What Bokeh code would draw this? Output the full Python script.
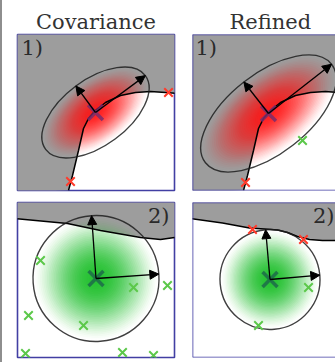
import numpy as np
from bokeh.plotting import figure
from bokeh.layouts import row, column
from bokeh.models import Range1d, ColumnDataSource, Arrow, NormalHead, Label, Span, Div
from bokeh.embed import file_html
from bokeh.resources import INLINE

# ---- text ----
titles = ["Covariance", "Refined"]
row_tags = ["1)", "2)"]

# ---- scene 1: obstacle boundary (occupied side is up/left) ----
wall1_x = [51, 55, 61, 66, 71, 78, 88, 103, 118, 133, 148, 160]
wall1_y = [0, 15, 40, 62, 72, 80, 88, 95, 98, 99, 98, 97]

# ---- scene 2: obstacle boundary (occupied side is up) ----
wall2_cov_x = [-2, 50, 83, 123, 143, 157, 160]
wall2_cov_y = [140, 135, 128, 121, 119, 121, 121]
wall2_ref_x = [-2, 30, 57, 72, 85, 95, 105, 117, 130, 160]
wall2_ref_y = [140, 135.5, 130.5, 129.5, 128.5, 126, 122, 119, 118, 118]

# ---- uncertainty ellipses: centre, semi-axes, rotation (deg) ----
cov1 = dict(cx=78, cy=78, a=62, b=33, ang=36.5)
ref1 = dict(cx=76, cy=77, a=80, b=40, ang=38.0)
cov2 = dict(cx=78.5, cy=80, a=63, b=63, ang=4.0)
ref2 = dict(cx=77.5, cy=79, a=50, b=50, ang=5.0)

# ---- samples ----
cov1_red_x, cov1_red_y = [151, 53], [98, 9]
ref1_red_x, ref1_red_y = [151, 53], [98, 8]
ref1_green_x, ref1_green_y = [110], [50]
cov2_green_x = [23, 116, 150, 11, 66, 8, 105, 136]
cov2_green_y = [98, 71, 73, 43, 33, 5, 6, 3]
ref2_green_x, ref2_green_y = [116, 66], [71, 33]
ref2_red_x, ref2_red_y = [60, 111], [129, 119]

GRAY = "#9d9d9d"
FRAME = "#423fa3"
RED = "#ff1a1a"
GREEN = "#1cc02a"
SERIF = "DejaVu Serif"


def make_panel(w, h, xr, yr, bl, br, bt, bb, title=None, open_right=False):
    p = figure(width=w, height=h, x_range=Range1d(*xr), y_range=Range1d(*yr),
               output_backend="svg", toolbar_location=None,
               x_axis_location=None, y_axis_location=None,
               min_border_left=bl, min_border_right=br,
               min_border_top=bt, min_border_bottom=bb)
    p.xgrid.visible = False
    p.ygrid.visible = False
    p.background_fill_color = "white"
    p.border_fill_color = "white"
    if open_right:
        p.outline_line_color = None
        p.add_layout(Span(location=xr[0], dimension="height", line_color=FRAME, line_width=1.6))
        p.add_layout(Span(location=yr[0], dimension="width", line_color=FRAME, line_width=1.6))
        p.add_layout(Span(location=yr[1], dimension="width", line_color=FRAME, line_width=1.6))
    else:
        p.outline_line_color = FRAME
        p.outline_line_width = 1.6
    if title:
        p.title.text = title
        p.title.text_font = SERIF
        p.title.text_font_size = "21px"
        p.title.text_font_style = "normal"
        p.title.text_color = "#333333"
        p.title.standoff = 2
    return p


def occupied(p, xs, ys, cx, cy):
    # boundary curve closed through the given frame corners
    p.patch(xs + cx, ys + cy, fill_color=GRAY, line_color=None)


def shaded_ellipse(p, e, color):
    n = 36
    r = np.linspace(1.0, 1.0 / n, n)
    opacity = 0.95 * (1 - r ** 2) ** 1.5
    trans = 1 - opacity
    prev = np.concatenate([[1.0], trans[:-1]])
    alpha = np.clip(1 - trans / prev, 0, 1)
    src = ColumnDataSource(dict(x=[e["cx"]] * n, y=[e["cy"]] * n,
                                w=2 * e["a"] * r, h=2 * e["b"] * r, al=alpha))
    p.ellipse(x="x", y="y", width="w", height="h", angle=np.radians(e["ang"]),
              source=src, fill_color=color, fill_alpha="al", line_color=None)


def outline_and_axes(p, e, centre_color):
    t = np.radians(e["ang"])
    p.ellipse(x=[e["cx"]], y=[e["cy"]], width=[2 * e["a"]], height=[2 * e["b"]], angle=t,
              fill_color=None, line_color="#1e1e1e", line_width=1.4, line_alpha=0.85)
    tips_x = [e["cx"] + e["a"] * np.cos(t), e["cx"] - e["b"] * np.sin(t)]
    tips_y = [e["cy"] + e["a"] * np.sin(t), e["cy"] + e["b"] * np.cos(t)]
    src = ColumnDataSource(dict(x0=[e["cx"]] * 2, y0=[e["cy"]] * 2, x1=tips_x, y1=tips_y))
    p.add_layout(Arrow(end=NormalHead(size=9, fill_color="black", line_color="black"),
                       x_start="x0", y_start="y0", x_end="x1", y_end="y1",
                       source=src, line_color="black", line_width=1.3))
    p.scatter([e["cx"]], [e["cy"]], marker="x", size=21, line_width=3.5,
              line_color=centre_color, line_alpha=0.85)


def wall(p, xs, ys):
    p.line(xs, ys, line_color="black", line_width=1.5)


def samples(p, xs, ys, color):
    p.scatter(xs, ys, marker="x", size=12, line_width=2, line_color=color)


def tag(p, text, x, y, align="left"):
    p.add_layout(Label(x=x, y=y, text=text, text_font=SERIF, text_font_size="21px",
                       text_color="#2a2a2a", text_baseline="top", text_align=align))


# top-left: covariance, scene 1
p1 = make_panel(181, 196, (0, 157), (0, 156), 15, 9, 34, 6, title=titles[0])
p1.title.align = "center"
occupied(p1, wall1_x, wall1_y, [160, -2, -2], [158, 158, -2])
shaded_ellipse(p1, cov1, RED)
wall(p1, wall1_x, wall1_y)
outline_and_axes(p1, cov1, "#7a2d6c")
samples(p1, cov1_red_x, cov1_red_y, "#ff3b2b")
tag(p1, row_tags[0], 4, 155)

# top-right: refined, scene 1
p2 = make_panel(152, 196, (0, 143), (0, 156), 9, 0, 34, 6, title=titles[1], open_right=True)
p2.title.align = "left"
p2.title.offset = 37
occupied(p2, wall1_x, wall1_y, [160, -2, -2], [158, 158, -2])
shaded_ellipse(p2, ref1, RED)
wall(p2, wall1_x, wall1_y)
outline_and_axes(p2, ref1, "#7a2d6c")
samples(p2, ref1_red_x, ref1_red_y, "#ff3b2b")
samples(p2, ref1_green_x, ref1_green_y, "#5cc84a")
tag(p2, row_tags[0], 3, 155)

# bottom-left: covariance, scene 2
p3 = make_panel(181, 166, (0, 157), (1, 156), 15, 9, 6, 5)
occupied(p3, wall2_cov_x, wall2_cov_y, [160, -2], [158, 158])
shaded_ellipse(p3, cov2, GREEN)
wall(p3, wall2_cov_x, wall2_cov_y)
outline_and_axes(p3, cov2, "#1d6b4a")
samples(p3, cov2_green_x, cov2_green_y, "#5cc84a")
tag(p3, row_tags[1], 152, 155, "right")

# bottom-right: refined, scene 2
p4 = make_panel(152, 166, (0, 143), (1, 156), 9, 0, 6, 5, open_right=True)
occupied(p4, wall2_ref_x, wall2_ref_y, [160, -2], [158, 158])
shaded_ellipse(p4, ref2, GREEN)
wall(p4, wall2_ref_x, wall2_ref_y)
outline_and_axes(p4, ref2, "#1d6b4a")
samples(p4, ref2_green_x, ref2_green_y, "#5cc84a")
samples(p4, ref2_red_x, ref2_red_y, "#ff3b2b")
tag(p4, row_tags[1], 142, 155, "right")

# thin rule along the left edge of the page
rule = Div(text="", width=2, height=362, margin=0,
           styles={"background-color": "#8e8e8e", "padding": "0", "margin": "0"})

layout = row(rule, column(p1, p3), column(p2, p4))
open("out.html", "w").write(file_html(layout, INLINE))
